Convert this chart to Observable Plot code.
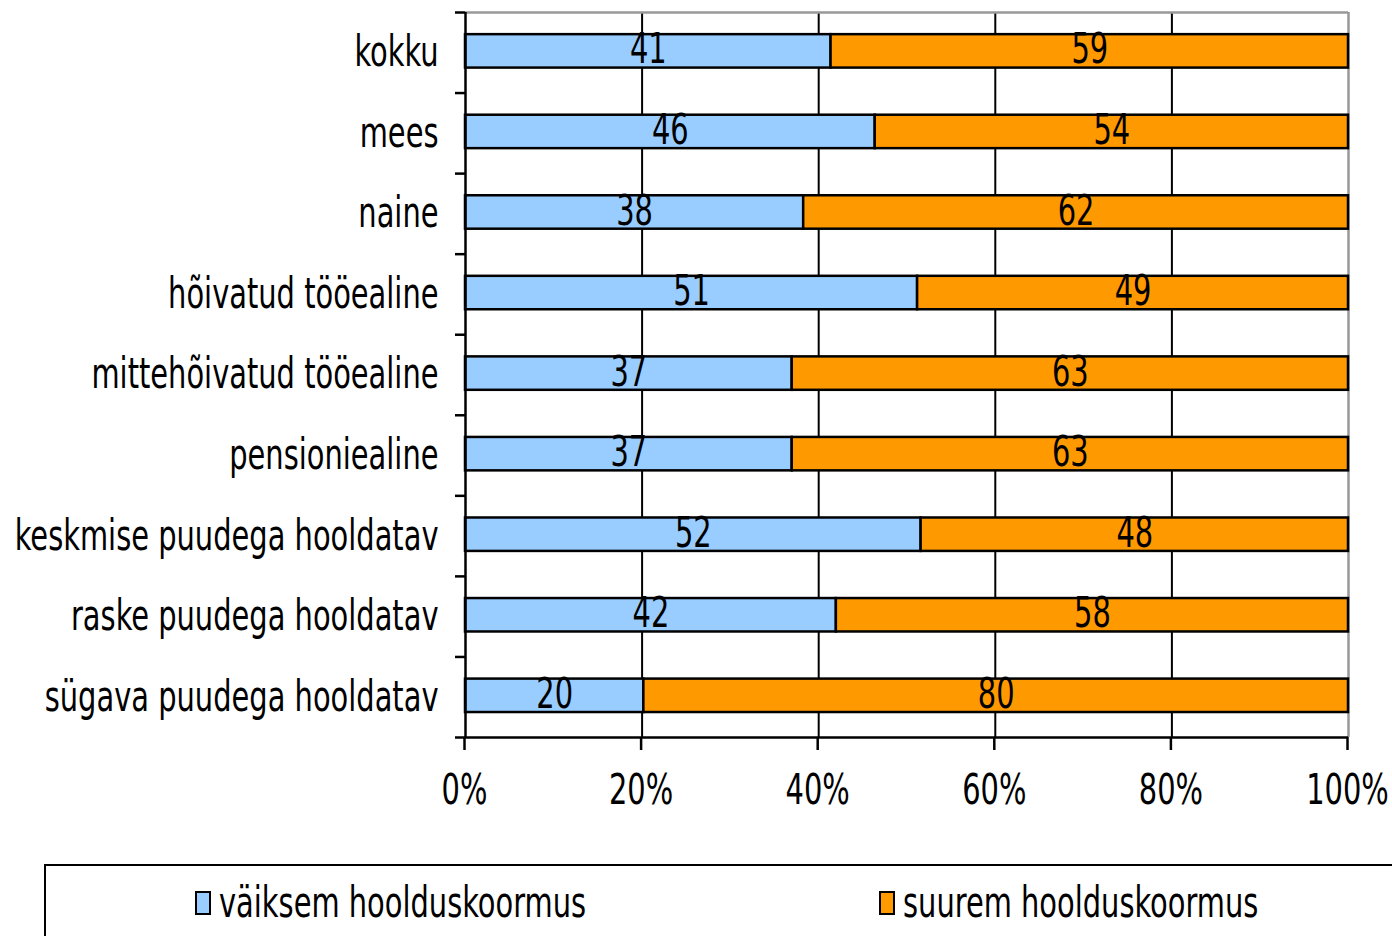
<!DOCTYPE html>
<html>
<head>
<meta charset="utf-8">
<script src="https://cdn.jsdelivr.net/npm/d3@7"></script>
<script src="https://cdn.jsdelivr.net/npm/@observablehq/plot@0.6"></script>
<style>
html,body{margin:0;padding:0;background:#fff;overflow:hidden;width:1392px;height:936px}
#chart{position:absolute;left:0;top:0}
.legend{position:absolute;left:44px;top:864px;width:1400px;height:120px;border:2.5px solid #000;box-sizing:border-box;font-family:"DejaVu Sans Condensed","DejaVu Sans",sans-serif;font-stretch:condensed;font-size:42px;color:#000}
.item{position:absolute;top:16px;height:42px;line-height:42px;white-space:nowrap}
.sw{position:absolute;left:0;top:9px;width:12px;height:20px;border:2px solid #000}
.tx{position:absolute;left:24px;top:0;display:inline-block;transform-origin:0 50%}
</style>
</head>
<body>
<div id="chart"></div>
<div class="legend" id="legend"></div>
<script>
const categories = ["kokku","mees","naine","hõivatud tööealine","mittehõivatud tööealine","pensioniealine","keskmise puudega hooldatav","raske puudega hooldatav","sügava puudega hooldatav"];
const smaller = [41.4,46.4,38.3,51.2,37.0,37.0,51.6,42.0,20.2];
const larger  = [58.6,53.6,61.7,48.8,63.0,63.0,48.4,58.0,79.8];
const labelsSmaller = [41,46,38,51,37,37,52,42,20];
const labelsLarger  = [59,54,62,49,63,63,48,58,80];
const seriesNames = ["väiksem hoolduskoormus","suurem hoolduskoormus"];
const seriesColors = ["#99CCFF","#FF9900"];
const xTicks = [0,20,40,60,80,100];

const K = 0.765; // horizontal glyph compression

const rows = [];
categories.forEach((c,i)=>{
  rows.push({cat:c, idx:i, series:seriesNames[0], x1:0, x2:smaller[i], label:String(labelsSmaller[i])});
  rows.push({cat:c, idx:i, series:seriesNames[1], x1:smaller[i], x2:smaller[i]+larger[i], label:String(labelsLarger[i])});
});

const W = 1392, H = 860;
const n = categories.length;
const chart = Plot.plot({
  width: W, height: H,
  marginTop: 12, marginBottom: H - 737, marginLeft: 465, marginRight: W - 1348,
  style: {fontFamily: "'DejaVu Sans Condensed','DejaVu Sans',sans-serif", fontSize: "42px", color: "#000", background: "#fff", fontStretch: "condensed"},
  x: {domain: [0, 100]},
  y: {domain: [0, n], reverse: true},
  color: {domain: seriesNames, range: seriesColors},
  marks: [
    Plot.gridX(xTicks.slice(1, -1), {stroke: "#000", strokeOpacity: 1, strokeWidth: 2}),
    Plot.ruleY([0], {stroke: "#999", strokeWidth: 2.5}),
    Plot.ruleX([100], {stroke: "#999", strokeWidth: 2.5}),
    Plot.rect(rows, {x1: "x1", x2: "x2", y1: d => d.idx + 0.275, y2: d => d.idx + 0.69, fill: "series", stroke: "#000", strokeWidth: 2.5}),
    Plot.text(rows, {x: d => (d.x1 + d.x2) / 2, y: d => d.idx + 0.465, text: "label", fill: "#000", fontSize: 42}),
    Plot.axisX({ticks: xTicks, tickFormat: d => d + "%", tickSize: 13, tickPadding: 24, stroke: "#000", strokeWidth: 2.5, strokeOpacity: 1, label: null, fontSize: 42, dx: -1}),
    Plot.axisY({ticks: d3.range(n + 1), tickFormat: () => "", tickSize: 10, strokeWidth: 2.5, strokeOpacity: 1, label: null}),
    Plot.axisY({ticks: d3.range(n).map(i => i + 0.5), tickFormat: t => categories[Math.floor(t)], tickSize: 0, tickPadding: 27, label: null, fontSize: 42}),
    Plot.ruleY([n], {stroke: "#000", strokeWidth: 2.5}),
    Plot.ruleX([0], {stroke: "#000", strokeWidth: 2.5})
  ]
});
document.getElementById("chart").append(chart);
chart.querySelectorAll("text").forEach(t => {
  const w = t.getComputedTextLength();
  if (w > 0) {
    t.setAttribute("textLength", (w * K).toFixed(2));
    t.setAttribute("lengthAdjust", "spacingAndGlyphs");
  }
});

const legend = document.getElementById("legend");
const itemLefts = [149, 833];
seriesNames.forEach((s, i) => {
  const it = document.createElement("div");
  it.className = "item";
  it.style.left = itemLefts[i] + "px";
  const sw = document.createElement("span");
  sw.className = "sw";
  sw.style.background = seriesColors[i];
  const tx = document.createElement("span");
  tx.className = "tx";
  tx.textContent = s;
  tx.style.transform = `scaleX(${K})`;
  it.append(sw, tx);
  legend.append(it);
});
</script>
</body>
</html>
